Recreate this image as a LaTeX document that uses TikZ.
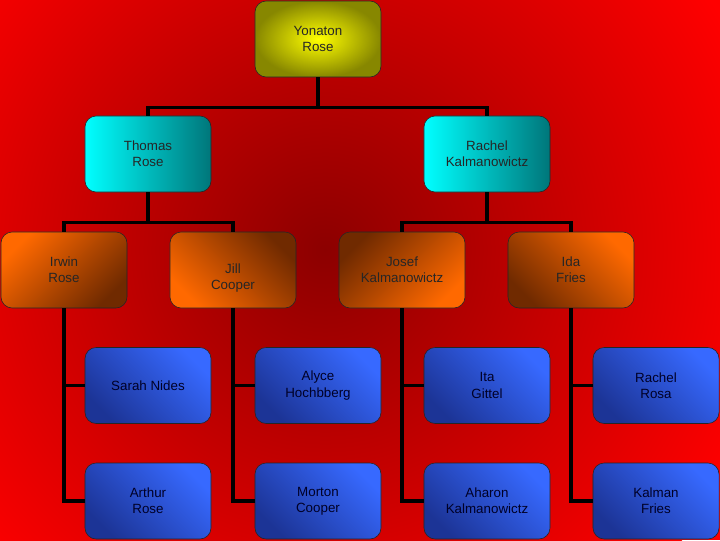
\documentclass[tikz,border=0pt]{standalone}
\usepackage{fontspec}
\setmainfont{Liberation Sans}
\usetikzlibrary{positioning, calc, shadings}
\definecolor{boxblue}{RGB}{55,105,255}
\definecolor{boxnavy}{RGB}{28,52,150}
\definecolor{boxorange}{RGB}{255,105,0}
\definecolor{boxbrown}{RGB}{112,42,0}
\definecolor{boxteal}{RGB}{0,118,122}
\definecolor{boxolive}{RGB}{135,135,0}
\definecolor{bgdark}{RGB}{140,0,0}
\tikzset{base-box/.style = {
  rectangle, rounded corners=2.8mm,
  draw=black!85, thin,
  minimum width=3.15cm, minimum height=1.9cm,
  text centered, align=center,
  font=\fontsize{9.5}{11.5}\selectfont, text=black!85
  }}
\tikzset{root-box/.style = {base-box, inner color=yellow, outer color=boxolive}}
\tikzset{child-box/.style = {base-box, left color=cyan, right color=boxteal}}
\tikzset{grand-box/.style = {base-box, top color=boxorange, bottom color=boxbrown, shading angle=#1}}
\tikzset{great-box/.style = {base-box, top color=boxblue, bottom color=boxnavy, shading angle=-45,
  text=blue!15!black}}
\tikzset{link/.style = {line width=2.4pt, draw=black}}

\begin{document}
\begin{tikzpicture}[x=0.025cm, y=-0.025cm]

	% Background
	\useasboundingbox (0,0) rectangle (720,540);
	\fill[red] (0,0) rectangle (720,540);
	\begin{scope}
	\clip (0,0) rectangle (720,540);
	\shade[inner color=bgdark, outer color=red] (325,250) circle (11.5cm);
	\end{scope}

	% Generations
	\node[root-box] (yonaton) at (318,39) {Yonaton\\Rose};

	\node[child-box] (thomas) at (148,154) {Thomas\\Rose};
	\node[child-box] (rachel) at (487,154) {Rachel\\Kalmanowictz};

	\node[grand-box=45] (irwin) at (64,270) {Irwin\\Rose};
	\node[grand-box=135, label={[align=center, yshift=-0.2cm, font=\fontsize{9.5}{11.5}\selectfont, text=black!85]center:Jill\\Cooper}] (jill) at (233,270) {};
	\node[grand-box=-135] (josef) at (402,270) {Josef\\Kalmanowictz};
	\node[grand-box=-45] (ida) at (571,270) {Ida\\Fries};

	\node[great-box] (sarah) at (148,385.5) {Sarah Nides};
	\node[great-box] (alyce) at (318,385.5) {Alyce\\Hochbberg};
	\node[great-box] (ita) at (487,385.5) {Ita\\Gittel};
	\node[great-box] (rosa) at (656,385.5) {Rachel\\Rosa};

	\node[great-box] (arthur) at (148,501) {Arthur\\Rose};
	\node[great-box] (morton) at (318,501) {Morton\\Cooper};
	\node[great-box] (aharon) at (487,501) {Aharon\\Kalmanowictz};
	\node[great-box] (kalman) at (656,501) {Kalman\\Fries};

	% Connectors
	\draw[link] (yonaton.south) -- ++(0,30) -| (thomas.north);
	\draw[link] (yonaton.south) -- ++(0,30) -| (rachel.north);
	\draw[link] (thomas.south) -- ++(0,30) -| (irwin.north);
	\draw[link] (thomas.south) -- ++(0,30) -| (jill.north);
	\draw[link] (rachel.south) -- ++(0,30) -| (josef.north);
	\draw[link] (rachel.south) -- ++(0,30) -| (ida.north);

	\draw[link] (irwin.south) |- (sarah.west);
	\draw[link] (irwin.south) |- (arthur.west);
	\draw[link] (jill.south) |- (alyce.west);
	\draw[link] (jill.south) |- (morton.west);
	\draw[link] (josef.south) |- (ita.west);
	\draw[link] (josef.south) |- (aharon.west);
	\draw[link] (ida.south) |- (rosa.west);
	\draw[link] (ida.south) |- (kalman.west);

\end{tikzpicture}
\end{document}
